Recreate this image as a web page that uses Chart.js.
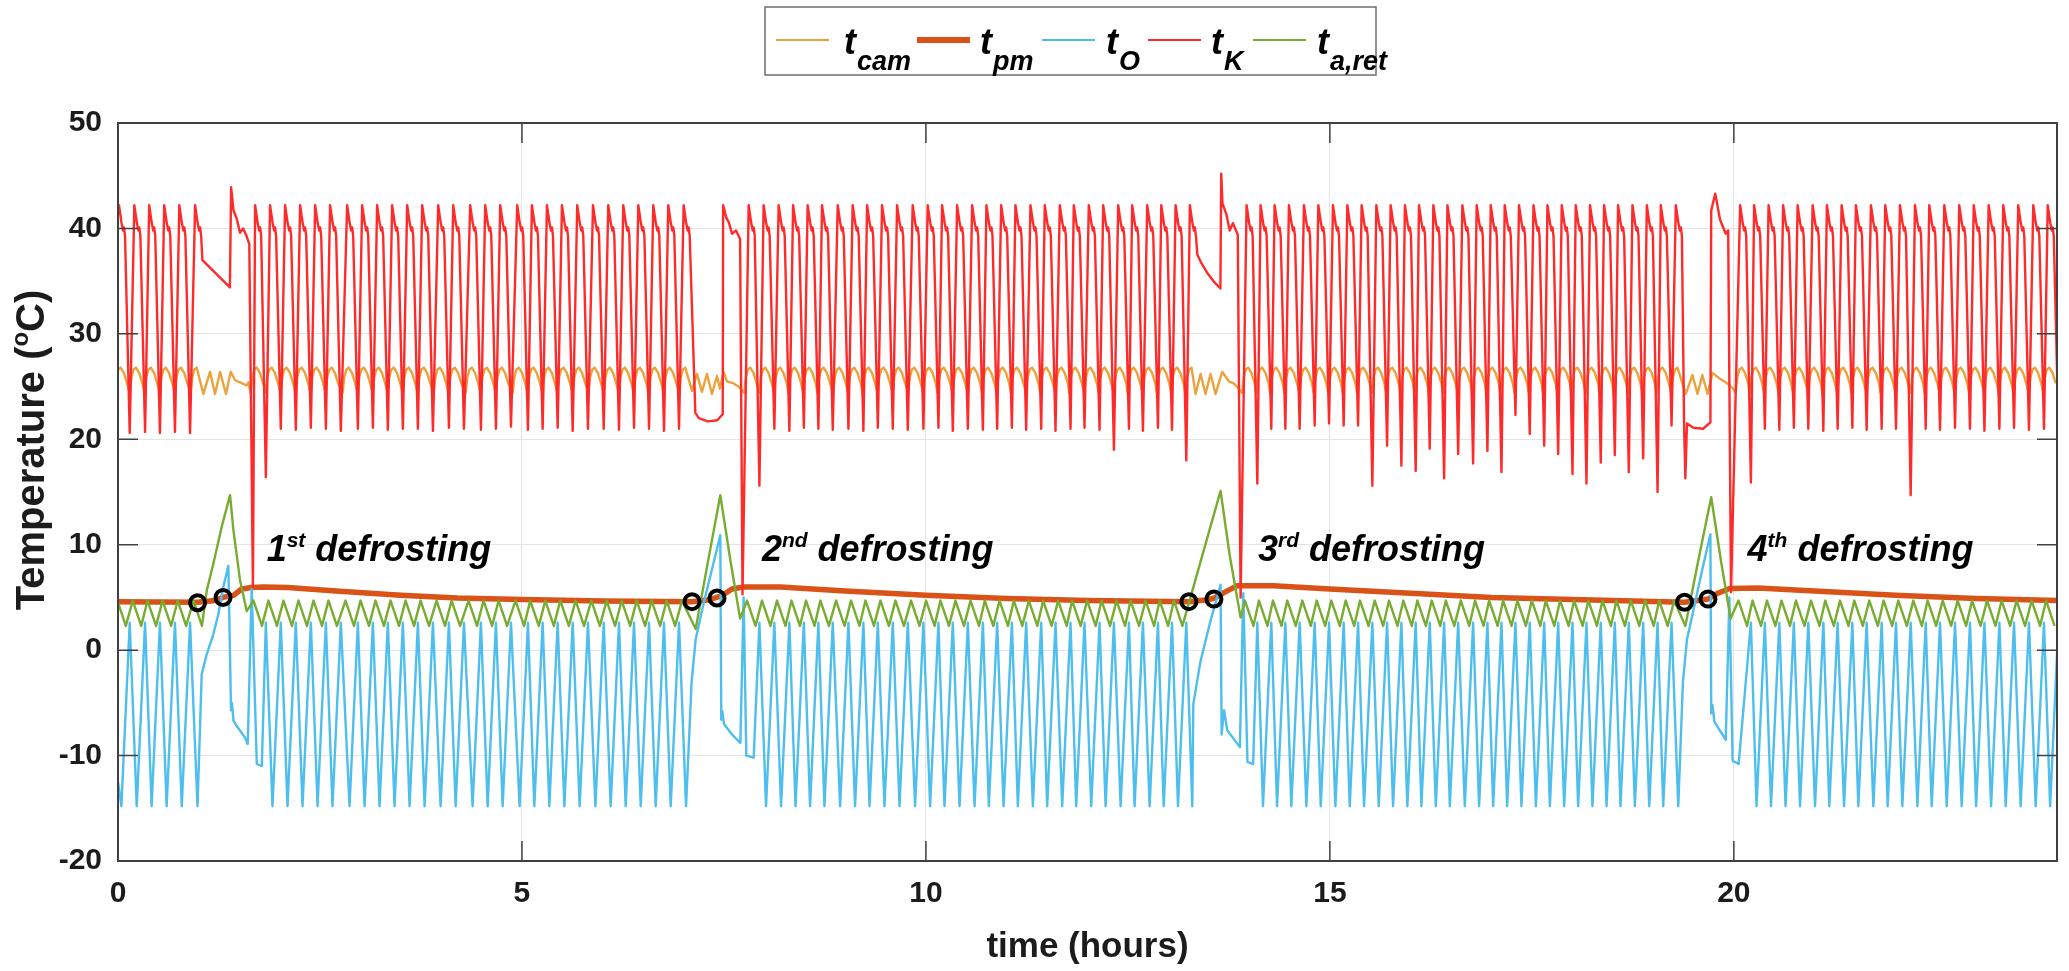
<!DOCTYPE html>
<html>
<head>
<meta charset="utf-8">
<title>Defrosting cycles</title>
<script src="https://cdn.jsdelivr.net/npm/chart.js@4.4.1/dist/chart.umd.min.js"></script>
<style>
  html, body { margin: 0; padding: 0; background: #fff; }
  canvas { display: block; }
</style>
</head>
<body>
<canvas id="chart" width="2069" height="971"></canvas>
<script>
/* ---- data (time in hours, temperature in °C) ---- */

// time of every t_K peak (compressor start), one list per run between defrosts
const peaksA = [0.012, 0.202, 0.386, 0.572, 0.759, 0.954];
const peaksB = [1.697, 1.882, 2.068, 2.254, 2.440, 2.625, 2.836, 3.022, 3.207, 3.393, 3.579, 3.765, 3.963, 4.149, 4.359,
  4.545, 4.731, 4.941, 5.123, 5.309, 5.495, 5.684, 5.879, 6.068, 6.254, 6.440, 6.625, 6.811, 7.001];
const peaksC = [7.806, 7.991, 8.177, 8.356, 8.536, 8.714, 8.908, 9.093, 9.272, 9.457, 9.643, 9.836, 10.022, 10.200, 10.386,
  10.572, 10.749, 10.931, 11.108, 11.294, 11.471, 11.657, 11.830, 12.016, 12.194, 12.380, 12.553, 12.739, 12.913, 13.090, 13.267];
const peaksD = [13.969, 14.142, 14.316, 14.493, 14.679, 14.857, 15.038, 15.216, 15.393, 15.575, 15.752, 15.929, 16.103, 16.281,
  16.455, 16.640, 16.817, 16.991, 17.164, 17.341, 17.520, 17.693, 17.870, 18.043, 18.220, 18.394, 18.567, 18.745, 18.923, 19.096, 19.282];
const peaksE = [20.078, 20.251, 20.430, 20.610, 20.789, 20.975, 21.152, 21.334, 21.511, 21.697, 21.874, 22.056, 22.242, 22.419,
  22.605, 22.790, 22.969, 23.154, 23.335, 23.520, 23.706, 23.885];

// t_K minimum after each peak
const kLowA = [20.6, 20.7, 20.6, 20.7, 20.6];
const kLowB = [16.4, 21.0, 20.9, 21.1, 21.0, 20.8, 21.0, 21.1, 20.9, 21.0, 21.0, 20.8, 21.1, 21.0, 20.9, 21.0, 21.2, 20.9, 21.0, 21.1,
  20.8, 21.0, 21.0, 20.9, 21.1, 21.0, 20.8, 21.0];
const kLowC = [15.6, 21.0, 20.8, 21.1, 21.0, 20.9, 21.0, 20.8, 21.1, 21.0, 20.9, 21.0, 21.1, 20.8, 21.0, 20.9, 21.0, 21.1, 20.9, 21.0,
  20.8, 21.0, 21.1, 20.9, 19.0, 21.0, 20.8, 21.1, 20.9, 18.0];
const kLowD = [15.8, 21.0, 21.0, 21.0, 21.3, 21.5, 21.3, 21.3, 15.6, 19.4, 17.5, 17.0, 19.1, 16.3, 18.6, 17.7, 18.9, 16.9, 22.3, 20.5,
  19.4, 18.6, 16.7, 15.8, 17.8, 18.5, 16.9, 18.2, 15.0, 21.3];
const kLowE = [15.9, 21.0, 20.9, 21.1, 21.0, 20.8, 21.0, 21.1, 20.9, 21.0, 21.0, 14.7, 21.0, 20.9, 21.1, 21.0, 20.8, 21.0, 21.1, 20.9,
  21.0, 21.0];

// one compressor cycle of each signal: [hours from the t_K peak, value]
const kCycle = [[0, 42.2], [0.03, 40.6], [0.05, 39.8], [0.062, 40.1], [0.075, 39.3], [0.133, null]];
const oCycle = [[0.03, -14.8], [0.133, 2.6]];
const aCycle = [[-0.02, 4.7], [0.085, 2.3]];
const camCycle = [[-0.056, 24.4], [-0.035, 25.9], [-0.01, 26.6], [0.02, 26.8], [0.06, 26.3], [0.10, 25.3]];

// the four defrosts, [time, value]
const kDef1 = [[1.045, 37.0], [1.385, 34.4], [1.40, 43.9], [1.43, 41.7], [1.47, 40.9], [1.51, 39.6], [1.55, 40.0], [1.59, 39.3], [1.625, 38.5], [1.67, 6.0]];
const kDef2 = [[7.146, 22.5], [7.19, 22.0], [7.30, 21.7], [7.42, 21.8], [7.485, 22.4], [7.49, 42.2], [7.53, 41.0], [7.56, 40.6], [7.60, 39.5], [7.65, 39.8], [7.70, 39.0], [7.73, 5.3]];
const kDef3 = [[13.36, 37.5], [13.41, 36.7], [13.49, 35.7], [13.57, 34.9], [13.645, 34.3], [13.655, 45.2], [13.67, 42.4], [13.72, 41.3], [13.76, 39.8], [13.80, 40.5], [13.86, 39.4], [13.895, 5.0]];
const kDef4 = [[19.385, 21.0], [19.40, 16.3], [19.42, 21.5], [19.50, 21.1], [19.62, 21.0], [19.71, 21.6], [19.72, 41.7], [19.77, 43.3], [19.83, 40.8], [19.90, 39.5], [19.93, 39.8], [19.965, 5.5]];

const oDef1 = [[1.036, -2.3], [1.098, -0.4], [1.18, 1.5], [1.242, 3.4], [1.304, 6.0], [1.366, 8.0], [1.399, -5.7], [1.41, -5.0], [1.43, -6.7], [1.47, -7.2], [1.573, -8.3], [1.606, -8.9], [1.655, 5.8], [1.718, -10.8], [1.78, -11.0]];
const oDef2 = [[7.10, -3.0], [7.15, 1.0], [7.25, 4.5], [7.35, 7.6], [7.455, 10.9], [7.467, -6.6], [7.48, -5.8], [7.50, -7.0], [7.60, -8.0], [7.703, -8.8], [7.744, 5.0], [7.777, -10.0], [7.868, -10.2]];
const oDef3 = [[13.31, -5.1], [13.40, -1.0], [13.523, 2.8], [13.627, 5.65], [13.647, 6.2], [13.66, -8.0], [13.69, -5.7], [13.73, -7.6], [13.886, -9.2], [13.928, 5.4], [13.98, -10.6], [14.05, -10.8]];
const oDef4 = [[19.37, -3.0], [19.42, 1.0], [19.52, 4.5], [19.62, 8.0], [19.71, 11.0], [19.72, -6.0], [19.735, -5.2], [19.76, -6.8], [19.90, -8.5], [19.945, 5.0], [19.985, -10.5], [20.06, -10.8]];

const aDef1 = [[0.934, 4.7], [1.039, 2.3], [1.10, 5.7], [1.18, 8.2], [1.284, 11.7], [1.387, 14.7], [1.428, 11.4], [1.511, 6.6], [1.594, 3.7]];
const aDef2 = [[6.981, 4.7], [7.15, 2.0], [7.30, 8.3], [7.455, 14.7], [7.58, 8.5], [7.70, 3.0]];
const aDef3 = [[13.647, 15.1], [13.76, 9.0], [13.895, 3.1]];
const aDef4 = [[19.262, 4.7], [19.40, 2.3], [19.56, 8.5], [19.72, 14.5], [19.84, 8.5], [19.96, 3.0]];

const camDef1 = [[1.057, 24.3], [1.139, 26.4], [1.201, 24.3], [1.263, 26.4], [1.337, 24.3], [1.395, 26.4], [1.449, 25.6], [1.511, 25.4], [1.594, 25.1], [1.614, 25.4]];
const camDef2 = [[7.105, 24.6], [7.166, 26.2], [7.228, 24.5], [7.29, 26.2], [7.352, 24.3], [7.414, 26.0], [7.45, 24.8], [7.496, 26.4], [7.538, 25.5], [7.62, 25.3], [7.68, 25.0]];
const camDef3 = [[13.338, 24.3], [13.40, 26.2], [13.461, 24.3], [13.523, 26.2], [13.585, 24.3], [13.667, 26.4], [13.75, 25.5], [13.81, 25.3], [13.85, 25.0]];
const camDef4 = [[19.405, 24.3], [19.488, 26.1], [19.55, 24.3], [19.61, 26.1], [19.675, 24.3], [19.736, 26.3], [19.818, 25.8], [19.92, 25.3], [19.99, 24.8]];

// product temperature, slow signal
const pmSeries = [[0, 4.6], [0.98, 4.55], [1.2, 4.7], [1.30, 5.0], [1.43, 5.2], [1.53, 5.8], [1.65, 5.95], [1.8, 6.0], [2.1, 5.95],
  [2.7, 5.6], [3.5, 5.2], [4.2, 4.95], [5.0, 4.8], [6.0, 4.65], [7.1, 4.6], [7.3, 4.75], [7.41, 5.0], [7.5, 5.3], [7.6, 5.8],
  [7.75, 6.0], [8.2, 6.0], [9.0, 5.6], [10, 5.2], [11, 4.9], [12, 4.7], [13.26, 4.6], [13.45, 4.75], [13.56, 4.9], [13.7, 5.5],
  [13.85, 6.1], [14.3, 6.1], [15, 5.8], [16, 5.4], [17, 5.0], [18, 4.8], [19.39, 4.55], [19.55, 4.7], [19.68, 4.85], [19.8, 5.4],
  [19.95, 5.85], [20.3, 5.9], [21, 5.6], [22, 5.2], [23, 4.9], [24, 4.7]];

// start / end of each defrost
const defrostMarks = [[0.985, 4.5], [1.30, 5.0], [7.105, 4.6], [7.414, 4.95], [13.255, 4.6], [13.565, 4.85], [19.39, 4.55], [19.68, 4.85]];

const defrostLabelX = [1.84, 7.97, 14.11, 20.17];
const defrostLabelNum = ['1', '2', '3', '4'];
const defrostLabelSup = ['st', 'nd', 'rd', 'th'];
const defrostLabelY = 8.5;

const xTicks = [0, 5, 10, 15, 20];
const yTicks = [-20, -10, 0, 10, 20, 30, 40, 50];

/* ---- build the series ---- */
const runs = [peaksA, peaksB, peaksC, peaksD, peaksE];

function cycles(peaks, shape, lows, firstFrom, lastTo, tail) {
  const out = [];
  peaks.forEach((t, i) => {
    const from = i === 0 ? firstFrom : 0;
    const to = (i === peaks.length - 1 && !tail) ? lastTo : shape.length;
    for (let k = from; k < to; k++) {
      const v = shape[k][1] === null ? lows[i] : shape[k][1];
      out.push({ x: t + shape[k][0], y: v });
    }
  });
  return out;
}

function series(start, shape, lows, defs, firstFrom, lastTo) {
  let pts = start.map(([x, y]) => ({ x, y }));
  runs.forEach((p, s) => {
    pts = pts.concat(cycles(p, shape, lows ? lows[s] : null, firstFrom, lastTo, s === runs.length - 1));
    if (defs[s]) pts = pts.concat(defs[s].map(([x, y]) => ({ x, y })));
  });
  return pts;
}

const tK = series([[0, 41.9]], kCycle, [kLowA, kLowB, kLowC, kLowD, kLowE], [kDef1, kDef2, kDef3, kDef4], 0, 5);
const tO = series([[0, -12.5], [0.042, -14.8]], oCycle, null, [oDef1, oDef2, oDef3, oDef4], 1, 1);
const tA = series([], aCycle, null, [aDef1, aDef2, aDef3, aDef4], 0, 0);
const tCam = series([], camCycle, null, [camDef1, camDef2, camDef3, camDef4], 0, 4);
const tPm = pmSeries.map(([x, y]) => ({ x, y }));

/* ---- drawing ---- */
const FONT = '"Liberation Sans", Arial, sans-serif';
const INK = '#1c1c1c';

const legendItems = [
  { sub: 'cam', color: '#EBA23A', width: 2, lineX: 776, textX: 844 },
  { sub: 'pm', color: '#D95319', width: 6, lineX: 917, textX: 980 },
  { sub: 'O', color: '#4DBEEE', width: 2, lineX: 1042, textX: 1106 },
  { sub: 'K', color: '#FF2A2A', width: 2, lineX: 1148, textX: 1211 },
  { sub: 'a,ret', color: '#77AC30', width: 2, lineX: 1253, textX: 1317 },
];

const framePlugin = {
  id: 'frame',
  afterDatasetsDraw(chart) {
    const { ctx, chartArea: a, scales: { x, y } } = chart;
    ctx.save();

    // inward ticks, MATLAB style
    ctx.strokeStyle = '#404040';
    ctx.lineWidth = 1.5;
    ctx.beginPath();
    xTicks.forEach((v) => {
      const px = x.getPixelForValue(v);
      ctx.moveTo(px, a.bottom); ctx.lineTo(px, a.bottom - 20);
      ctx.moveTo(px, a.top); ctx.lineTo(px, a.top + 20);
    });
    yTicks.forEach((v) => {
      const py = y.getPixelForValue(v);
      ctx.moveTo(a.left, py); ctx.lineTo(a.left + 20, py);
      ctx.moveTo(a.right, py); ctx.lineTo(a.right - 20, py);
    });
    ctx.stroke();

    // box
    ctx.lineWidth = 2;
    ctx.strokeRect(a.left, a.top, a.right - a.left, a.bottom - a.top);

    // defrost labels
    ctx.fillStyle = '#000';
    ctx.textBaseline = 'alphabetic';
    ctx.textAlign = 'left';
    defrostLabelX.forEach((t, i) => {
      const px = x.getPixelForValue(t);
      const py = y.getPixelForValue(defrostLabelY);
      ctx.font = `italic bold 36px ${FONT}`;
      ctx.fillText(defrostLabelNum[i], px, py);
      const w1 = ctx.measureText(defrostLabelNum[i]).width;
      ctx.font = `italic bold 21px ${FONT}`;
      ctx.fillText(defrostLabelSup[i], px + w1, py - 14);
      const w2 = ctx.measureText(defrostLabelSup[i]).width;
      ctx.font = `italic bold 36px ${FONT}`;
      ctx.fillText('defrosting', px + w1 + w2 + 10, py);
    });

    // axis titles
    ctx.fillStyle = INK;
    ctx.font = `bold 35px ${FONT}`;
    ctx.textAlign = 'center';
    ctx.fillText('time (hours)', (a.left + a.right) / 2, 957);

    ctx.save();
    ctx.translate(30, 450);
    ctx.rotate(-Math.PI / 2);
    ctx.textAlign = 'left';
    ctx.font = `bold 40px ${FONT}`;
    const wA = ctx.measureText('Temperature (').width;
    const wC = ctx.measureText('C)').width;
    ctx.font = `bold 24px ${FONT}`;
    const wB = ctx.measureText('o').width;
    const tx = -(wA + wB + wC) / 2;
    ctx.font = `bold 40px ${FONT}`;
    ctx.fillText('Temperature (', tx, 14);
    ctx.font = `bold 24px ${FONT}`;
    ctx.fillText('o', tx + wA, -2);
    ctx.font = `bold 40px ${FONT}`;
    ctx.fillText('C)', tx + wA + wB, 14);
    ctx.restore();

    // legend
    ctx.fillStyle = '#fff';
    ctx.fillRect(765, 7, 611, 68);
    ctx.strokeStyle = '#6e6e6e';
    ctx.lineWidth = 1.5;
    ctx.strokeRect(765, 7, 611, 68);
    legendItems.forEach((it) => {
      ctx.strokeStyle = it.color;
      ctx.lineWidth = it.width;
      ctx.beginPath();
      ctx.moveTo(it.lineX, 40);
      ctx.lineTo(it.lineX + 53, 40);
      ctx.stroke();
      ctx.fillStyle = '#000';
      ctx.textAlign = 'left';
      ctx.font = `italic bold 36px ${FONT}`;
      ctx.fillText('t', it.textX, 54);
      const wt = ctx.measureText('t').width;
      ctx.font = `italic bold 27px ${FONT}`;
      ctx.fillText(it.sub, it.textX + wt + 1, 70);
    });

    ctx.restore();
  },
};

const thin = 2.4;

new Chart(document.getElementById('chart').getContext('2d'), {
  type: 'line',
  data: {
    datasets: [
      {
        type: 'scatter', label: 'defrost', data: defrostMarks.map(([x, y]) => ({ x, y })),
        pointRadius: 7.5, pointBorderWidth: 4, pointBorderColor: '#000',
        pointBackgroundColor: 'rgba(0,0,0,0)', showLine: false,
      },
      { label: 't_a,ret', data: tA, borderColor: '#77AC30', borderWidth: thin },
      { label: 't_K', data: tK, borderColor: '#FF2A2A', borderWidth: thin },
      { label: 't_O', data: tO, borderColor: '#4DBEEE', borderWidth: thin },
      { label: 't_pm', data: tPm, borderColor: '#D95319', borderWidth: 5.5 },
      { label: 't_cam', data: tCam, borderColor: '#EBA23A', borderWidth: thin },
    ],
  },
  options: {
    responsive: false,
    animation: false,
    events: [],
    layout: { padding: { top: 123, right: 12, left: 0, bottom: 0 } },
    elements: {
      point: { radius: 0 },
      line: { tension: 0, borderJoinStyle: 'round', fill: false },
    },
    plugins: { legend: { display: false }, tooltip: { enabled: false } },
    scales: {
      x: {
        type: 'linear', min: 0, max: 24,
        afterBuildTicks: (s) => { s.ticks = xTicks.map((v) => ({ value: v })); },
        afterFit: (s) => { s.height = 110; },
        grid: { color: '#e4e4e4', lineWidth: 1, drawTicks: false },
        border: { display: false },
        ticks: { color: INK, padding: 15, font: { family: FONT, size: 30, weight: 'bold' } },
      },
      y: {
        type: 'linear', min: -20, max: 50,
        afterBuildTicks: (s) => { s.ticks = yTicks.map((v) => ({ value: v })); },
        afterFit: (s) => { s.width = 118; },
        grid: { color: '#e4e4e4', lineWidth: 1, drawTicks: false },
        border: { display: false },
        ticks: { color: INK, padding: 16, font: { family: FONT, size: 30, weight: 'bold' } },
      },
    },
  },
  plugins: [framePlugin],
});
</script>
</body>
</html>
